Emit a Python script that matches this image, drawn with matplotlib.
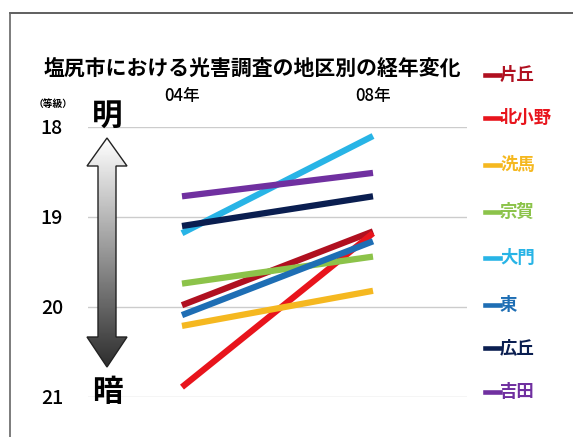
import numpy as np
import matplotlib
matplotlib.use('Agg')
import matplotlib.pyplot as plt
from matplotlib.patches import Polygon
from matplotlib.lines import Line2D

plt.rcParams['font.family'] = ['Noto Sans CJK JP', 'DejaVu Sans']

# データ（等級、値が小さいほど明るい）
years = ['04年', '08年']
districts = ['片丘', '北小野', '洗馬', '宗賀', '大門', '東', '広丘', '吉田']
mag_04 = [19.98, 20.89, 20.21, 19.74, 19.18, 20.09, 19.10, 18.77]
mag_08 = [19.16, 19.18, 19.82, 19.44, 18.10, 19.27, 18.77, 18.51]
colors = ['#b01020', '#e8141c', '#f5b820', '#8cc34a', '#28b4e6',
          '#1e6eb4', '#0a1e50', '#7030a0']
y_ticks = [18, 19, 20, 21]

W, H = 573, 437
fig = plt.figure(figsize=(W / 100, H / 100), dpi=100)

# 枠線
fig.add_artist(Line2D([10 / W, 1], [1 - 13 / H, 1 - 13 / H], color='#444444', lw=1.2))
fig.add_artist(Line2D([10 / W, 10 / W], [0, 1 - 13 / H], color='#666666', lw=1.2))

ax = fig.add_axes([88 / W, 1 - 397 / H, (467 - 88) / W, (397 - 127) / H])
x = np.arange(len(years))
for name, a, b, c in zip(districts, mag_04, mag_08, colors):
    ax.plot(x, [a, b], color=c, lw=4.5, solid_capstyle='butt')

ax.set_xlim(-0.492, 1.492)
ax.set_ylim(21, 18)
ax.set_yticks(y_ticks)
ax.set_yticklabels([str(v) for v in y_ticks], fontsize=14, fontweight='medium')
ax.tick_params(axis='y', length=0, pad=18)
ax.set_xticks(x)
ax.set_xticklabels(years, fontsize=12, fontweight='medium')
ax.xaxis.tick_top()
ax.tick_params(axis='x', length=0, pad=16)
ax.grid(axis='y', color='#cccccc', lw=1)
ax.set_axisbelow(True)
for s in ax.spines.values():
    s.set_visible(False)

# タイトルなど
fig.text(252 / W, 1 - 68 / H, '塩尻市における光害調査の地区別の経年変化',
         ha='center', va='center', fontsize=15, fontweight='bold')
fig.text(53 / W, 1 - 104 / H, '（等級）', ha='center', va='center', fontsize=7, fontweight='bold')
fig.text(107 / W, 1 - 117 / H, '明', ha='center', va='center', fontsize=22, fontweight='bold')
fig.text(107 / W, 1 - 392 / H, '暗', ha='center', va='center', fontsize=22, fontweight='bold')

# 凡例
leg_y = [75, 118, 165, 212, 258, 305, 348, 392]
for name, c, yy in zip(districts, colors, leg_y):
    fig.add_artist(Line2D([485 / W, 500 / W], [1 - yy / H, 1 - yy / H], color=c, lw=3.3))
    fig.text(500 / W, 1 - yy / H, name, color=c, ha='left', va='center',
             fontsize=12.5, fontweight='bold')

# 明暗の矢印（グラデーション）
pax = fig.add_axes([0, 0, 1, 1], zorder=5)
pax.set_xlim(0, W)
pax.set_ylim(H, 0)
pax.axis('off')
cx = 107
arrow = [(cx, 138), (cx + 20, 166), (cx + 9, 166), (cx + 9, 337), (cx + 20, 337),
         (cx, 367), (cx - 20, 337), (cx - 9, 337), (cx - 9, 166), (cx - 20, 166)]
grad = np.linspace(1.0, 0.18, 256).reshape(-1, 1)
im = pax.imshow(grad, cmap='gray', vmin=0, vmax=1, aspect='auto',
                extent=(cx - 21, cx + 21, 367, 138))
poly = Polygon(arrow, closed=True, facecolor='none', edgecolor='#222222', lw=1)
pax.add_patch(poly)
im.set_clip_path(poly)

fig.savefig('out.png', dpi=100)
